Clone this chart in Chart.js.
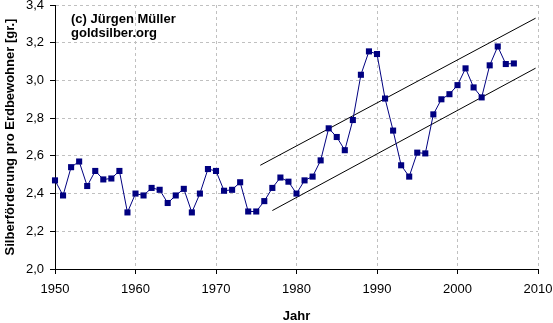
<!DOCTYPE html>
<html>
<head>
<meta charset="utf-8">
<script src="https://cdn.jsdelivr.net/npm/chart.js@4/dist/chart.umd.min.js"></script>
<style>
  html, body { margin: 0; padding: 0; background: #fff; }
  #wrap { width: 553px; height: 323px; position: relative; }
</style>
</head>
<body>
<div id="wrap"><canvas id="c" width="553" height="323"></canvas></div>
<script>
// ---- data ----
const years = [1950,1951,1952,1953,1954,1955,1956,1957,1958,1959,
               1960,1961,1962,1963,1964,1965,1966,1967,1968,1969,
               1970,1971,1972,1973,1974,1975,1976,1977,1978,1979,
               1980,1981,1982,1983,1984,1985,1986,1987,1988,1989,
               1990,1991,1992,1993,1994,1995,1996,1997,1998,1999,
               2000,2001,2002,2003,2004,2005,2006,2007];
const silverPerCapita = [2.47,2.39,2.54,2.57,2.44,2.52,2.475,2.48,2.52,2.30,
               2.40,2.39,2.43,2.42,2.35,2.39,2.425,2.30,2.40,2.53,
               2.52,2.415,2.42,2.46,2.305,2.305,2.36,2.43,2.485,2.463,
               2.40,2.47,2.49,2.576,2.746,2.70,2.63,2.79,3.03,3.154,
               3.14,2.904,2.734,2.55,2.49,2.617,2.613,2.82,2.90,2.927,
               2.975,3.064,2.963,2.91,3.08,3.18,3.087,3.09];
const upperTrendYears = [1975.5, 2009.7];
const upperTrendValues = [2.55, 3.33];
const lowerTrendYears = [1977.0, 2009.7];
const lowerTrendValues = [2.31, 3.065];
const xTickLabels = ['1950','1960','1970','1980','1990','2000','2010'];
const yTickLabels = ['2,0','2,2','2,4','2,6','2,8','3,0','3,2','3,4'];
const yTitle = 'Silberförderung pro Erdbewohner [gr.]';
const xTitle = 'Jahr';
const noteLines = ['(c) Jürgen Müller', 'goldsilber.org'];

// ---- build ----
const toXY = (xs, ys) => xs.map((x, i) => ({x: x, y: ys[i]}));
const FONT = "'Liberation Sans', Arial, sans-serif";

const notePlugin = {
  id: 'note',
  afterDraw(chart) {
    const ctx = chart.ctx;
    const a = chart.chartArea;
    ctx.save();
    ctx.fillStyle = '#000';
    ctx.font = "bold 13px " + FONT;
    ctx.textBaseline = 'middle';
    ctx.textAlign = 'left';
    noteLines.forEach((t, i) => ctx.fillText(t, a.left + 16, a.top + 14 + i * 14.5));
    ctx.restore();
  }
};

new Chart(document.getElementById('c'), {
  type: 'line',
  data: {
    datasets: [
      {
        data: toXY(years, silverPerCapita),
        borderColor: '#000080',
        backgroundColor: '#000080',
        borderWidth: 1,
        pointStyle: 'rect',
        pointRadius: 4.3,
        pointBorderWidth: 0,
        pointBackgroundColor: '#000080',
        tension: 0,
        clip: 8,
        order: 1
      },
      {
        data: toXY(upperTrendYears, upperTrendValues),
        borderColor: '#000',
        borderWidth: 1,
        pointRadius: 0,
        tension: 0,
        order: 2
      },
      {
        data: toXY(lowerTrendYears, lowerTrendValues),
        borderColor: '#000',
        borderWidth: 1,
        pointRadius: 0,
        tension: 0,
        order: 2
      }
    ]
  },
  options: {
    responsive: false,
    animation: false,
    devicePixelRatio: 1,
    layout: { padding: { top: 5, right: 15, left: 0, bottom: 0 } },
    plugins: { legend: { display: false }, tooltip: { enabled: false } },
    scales: {
      x: {
        type: 'linear',
        min: 1950, max: 2010,
        border: { display: true, color: '#000', width: 1, dash: [3, 3] },
        grid: { color: '#c0c0c0', lineWidth: 1, tickColor: '#000', tickLength: 5, tickBorderDash: [] },
        ticks: {
          stepSize: 10,
          color: '#000',
          font: { family: FONT, size: 13 },
          padding: 8,
          maxRotation: 0,
          callback: (v, i) => xTickLabels[i]
        },
        title: {
          display: true, text: xTitle, color: '#000',
          font: { family: FONT, size: 13, weight: 'bold', lineHeight: 1 },
          padding: { top: 0, bottom: 0 }
        },
        afterFit(s) { s.height = 54; s.paddingLeft = 0; s.paddingRight = 0; }
      },
      y: {
        min: 2.0, max: 3.4,
        border: { display: true, color: '#000', width: 1, dash: [3, 3] },
        grid: { color: '#c0c0c0', lineWidth: 1, tickColor: '#000', tickLength: 5, tickBorderDash: [] },
        ticks: {
          stepSize: 0.2,
          color: '#000',
          font: { family: FONT, size: 13 },
          padding: 6,
          callback: (v, i) => yTickLabels[i]
        },
        title: {
          display: true, text: yTitle, color: '#000',
          font: { family: FONT, size: 13, weight: 'bold' },
          padding: { top: 3, bottom: 0 }
        },
        afterFit(s) { s.width = 55; s.paddingTop = 0; s.paddingBottom = 0; }
      }
    }
  },
  plugins: [notePlugin]
});
</script>
</body>
</html>
